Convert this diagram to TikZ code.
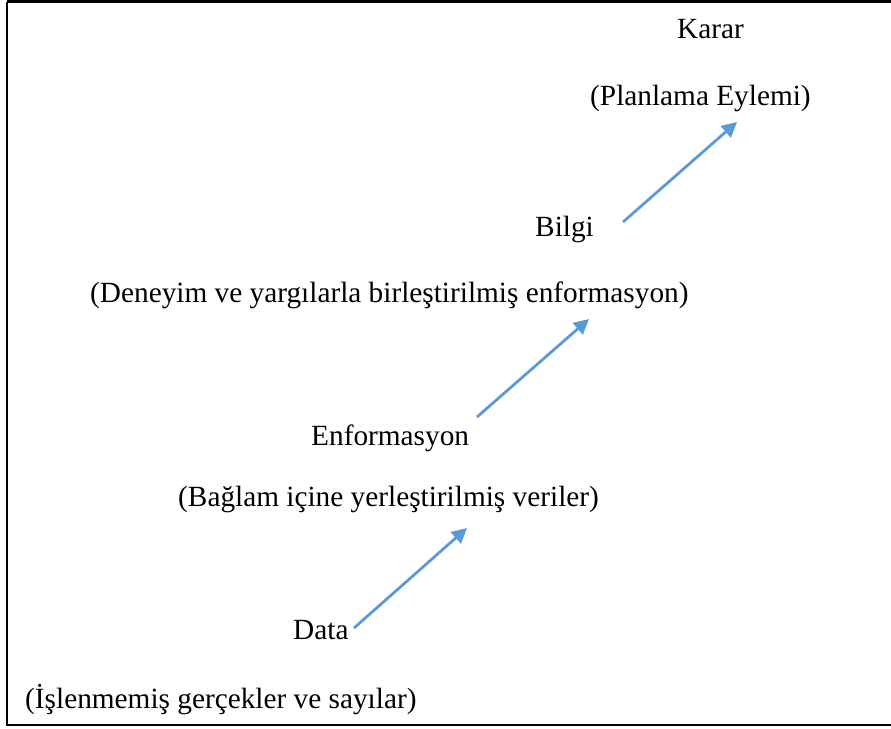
\documentclass[tikz,border=0pt]{standalone}
\usepackage{fontspec}
\setmainfont{Liberation Serif}
\usetikzlibrary{arrows.meta}
\definecolor{arrowblue}{HTML}{5B9BD5}
\tikzset{
  lbl/.style={anchor=base west,inner sep=0pt,font=\fontsize{29.3}{34}\selectfont},
  flow/.style={draw=arrowblue,line width=2.8pt,-{Triangle[length=15pt,width=15pt]}},
  frame/.style={draw=black,line width=2.4pt}
}
\begin{document}
\begin{tikzpicture}[x=1pt,y=-1pt]
\useasboundingbox (0,0) rectangle (891,728);
\draw[frame] (7,1.5) -- (900,1.5) (7,1.5) -- (7,725) -- (900,725);
\node[lbl] (karar) at (677,38) {Karar};
\node[lbl] (karard) at (590,105) {(Planlama Eylemi)};
\node[lbl] (bilgi) at (535,236) {Bilgi};
\node[lbl] (bilgid) at (90,302) {(Deneyim ve yargılarla birleştirilmiş enformasyon)};
\node[lbl] (enf) at (311,445) {Enformasyon};
\node[lbl] (enfd) at (178,506) {(Bağlam içine yerleştirilmiş veriler)};
\node[lbl] (data) at (293,639) {Data};
\node[lbl] (datad) at (25,708) {(İşlenmemiş gerçekler ve sayılar)};
\coordinate (a1s) at (354,628);
\coordinate (a1e) at (467,528);
\coordinate (a2s) at (477,417);
\coordinate (a2e) at (589,319);
\coordinate (a3s) at (623,222);
\coordinate (a3e) at (737,122);
\draw[flow] (a1s) -- (a1e);
\draw[flow] (a2s) -- (a2e);
\draw[flow] (a3s) -- (a3e);
\end{tikzpicture}
\end{document}
